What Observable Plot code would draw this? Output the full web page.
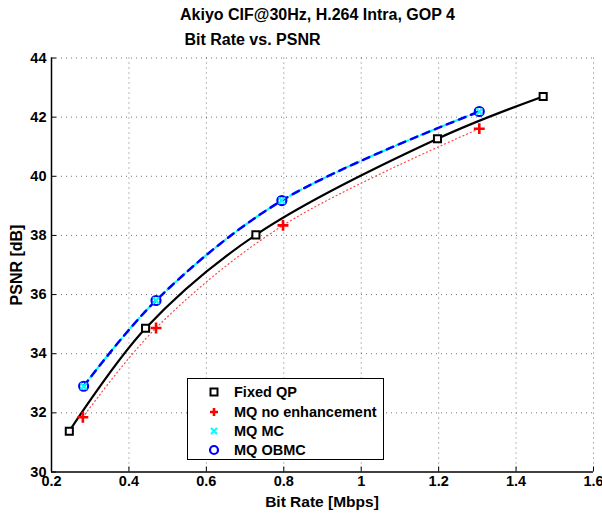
<!DOCTYPE html>
<html>
<head>
<meta charset="utf-8">
<script src="https://cdn.jsdelivr.net/npm/d3@7"></script>
<script src="https://cdn.jsdelivr.net/npm/@observablehq/plot@0.6"></script>
<style>
  html, body { margin: 0; padding: 0; background: #fff; }
  #wrap { position: relative; width: 602px; height: 514px; font-family: "Liberation Sans", Arial, Helvetica, sans-serif; overflow: hidden; }
  #chart { position: absolute; left: 0; top: 0; }
  .t { position: absolute; font-weight: bold; color: #000; white-space: pre; line-height: 1; }
  #legend { position: absolute; left: 187px; top: 378px; width: 197px; height: 82px; border: 1.5px solid #000; background: #fff; box-sizing: border-box; }
  .row { position: absolute; left: 0; height: 18px; display: flex; align-items: center; font-weight: bold; font-size: 14.5px; white-space: nowrap; }
  .row svg { margin-left: 20px; margin-right: 14px; }
</style>
</head>
<body>
<div id="wrap">
  <div id="chart"></div>
  <div class="t" id="title1" style="left:180px; top:7px; font-size:16px;">Akiyo CIF@30Hz, H.264 Intra, GOP 4</div>
  <div class="t" id="title2" style="left:180px; top:32px; font-size:16px;"> Bit Rate vs. PSNR</div>
  <div class="t" id="xlab" style="left:0; width:644px; text-align:center; top:494px; font-size:15.5px;">Bit Rate [Mbps]</div>
  <div class="t" id="ylab" style="left:17px; top:265px; font-size:16px; transform: translate(-50%,-50%) rotate(-90deg);">PSNR [dB]</div>
  <div id="legend"></div>
</div>
<script>
// ---- data ----
const xTicks = [0.2, 0.4, 0.6, 0.8, 1, 1.2, 1.4, 1.6];
const yTicks = [30, 32, 34, 36, 38, 40, 42, 44];

const fixedRate = [0.246, 0.443, 0.728, 1.197, 1.470];
const fixedPsnr = [31.38, 34.86, 38.02, 41.27, 42.70];

const mqRate = [0.281, 0.470, 0.798, 1.305];
const mqPsnr = [31.85, 34.87, 38.34, 41.61];

const mcRate = [0.283, 0.470, 0.795, 1.305];
const mcPsnr = [32.90, 35.80, 39.18, 42.19];

const obmcRate = [0.283, 0.470, 0.795, 1.305];
const obmcPsnr = [32.90, 35.80, 39.18, 42.19];

const seriesNames = ["Fixed QP", "MQ no enhancement", "MQ MC", "MQ OBMC"];

const toRows = (xs, ys) => xs.map((x, i) => ({x, y: ys[i]}));
const fixed = toRows(fixedRate, fixedPsnr);
const mq = toRows(mqRate, mqPsnr);
const mc = toRows(mcRate, mcPsnr);
const obmc = toRows(obmcRate, obmcPsnr);

const plot = Plot.plot({
  width: 602,
  height: 514,
  marginLeft: 51,
  marginRight: 9,
  marginTop: 57.5,
  marginBottom: 42.5,
  style: {fontFamily: "'Liberation Sans', Arial, sans-serif", background: "transparent", overflow: "visible"},
  x: {domain: [0.2, 1.6]},
  y: {domain: [30, 44]},
  marks: [
    Plot.gridX(xTicks.slice(1), {stroke: "#000", strokeOpacity: 0.55, strokeDasharray: "1,4"}),
    Plot.gridY(yTicks.slice(1), {stroke: "#000", strokeOpacity: 0.55, strokeDasharray: "1,4"}),
    Plot.axisX(xTicks, {tickSize: 0, tickPadding: 4, fontSize: 14.5, fontWeight: "bold", label: null, tickFormat: d => String(d)}),
    Plot.axisY(yTicks, {tickSize: 0, tickPadding: 5, fontSize: 14.5, fontWeight: "bold", label: null, tickFormat: d => String(d)}),
    Plot.axisX(xTicks, {tickSize: -5, text: null, label: null, strokeWidth: 1}),
    Plot.axisY(yTicks, {tickSize: -5, text: null, label: null, strokeWidth: 1}),
    Plot.ruleY([30], {stroke: "#000", strokeWidth: 1.5}),
    Plot.ruleX([0.2], {stroke: "#000", strokeWidth: 1.5}),
    // lines
    Plot.line(mq, {x: "x", y: "y", curve: "catmull-rom", stroke: "#ff4444", strokeWidth: 1.2, strokeDasharray: "1,3"}),
    Plot.line(fixed, {x: "x", y: "y", curve: "catmull-rom", stroke: "#000", strokeWidth: 2.2}),
    Plot.line(mc, {x: "x", y: "y", curve: "catmull-rom", stroke: "#00ffff", strokeWidth: 2.2, strokeDasharray: "8,3,2,3"}),
    Plot.line(obmc, {x: "x", y: "y", curve: "catmull-rom", stroke: "#0000ff", strokeWidth: 2.5, strokeDasharray: "7,6"}),
    // markers
    Plot.dot(fixed, {x: "x", y: "y", symbol: "square", r: 4, stroke: "#000", strokeWidth: 2, fill: "#fff"}),
    Plot.dot(mq, {x: "x", y: "y", symbol: "plus", r: 3.6, stroke: "#ff0000", strokeWidth: 2.6}),
    Plot.dot(obmc, {x: "x", y: "y", symbol: "circle", r: 4.5, stroke: "#0000ff", strokeWidth: 2.2, fill: "none"}),
    Plot.dot(mc, {x: "x", y: "y", symbol: "times", r: 3, stroke: "#00ffff", strokeWidth: 2})
  ]
});
document.getElementById("chart").appendChild(plot);

// legend
const sym = {
  "Fixed QP": '<rect x="2.5" y="2.5" width="7" height="7" fill="none" stroke="#000" stroke-width="2"/>',
  "MQ no enhancement": '<path d="M6 2V10M2 6H10" stroke="#ff0000" stroke-width="2.6"/>',
  "MQ MC": '<path d="M3 3L9 9M9 3L3 9" stroke="#00ffff" stroke-width="2.2"/>',
  "MQ OBMC": '<circle cx="6" cy="6" r="4" fill="none" stroke="#0000ff" stroke-width="2.2"/>'
};
const rowTops = [4, 24, 43, 62];
const leg = document.getElementById("legend");
seriesNames.forEach((n, i) => {
  const d = document.createElement("div");
  d.className = "row";
  d.style.top = rowTops[i] + "px";
  d.innerHTML = `<svg width="12" height="12">${sym[n]}</svg><span>${n}</span>`;
  leg.appendChild(d);
});
</script>
</body>
</html>
